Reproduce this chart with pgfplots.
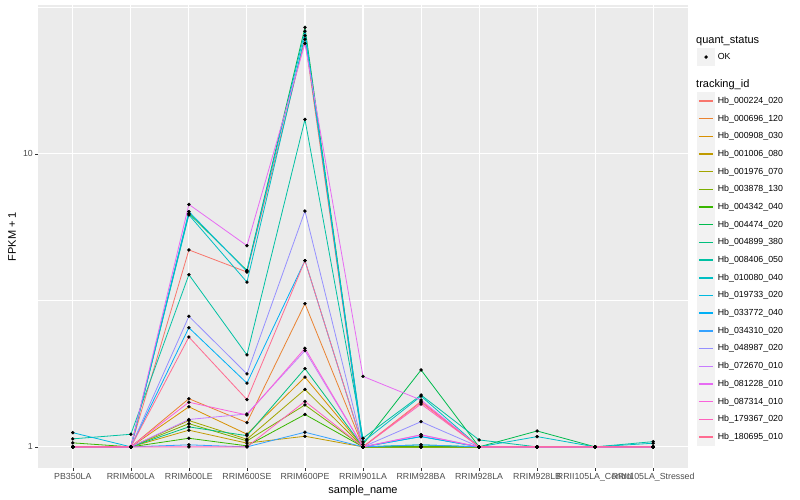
\documentclass[border=0pt]{standalone}
\usepackage{fontspec}
\setmainfont{Liberation Sans}
\usepackage{pgfplots}
\usepackage{pgfplotstable}
\pgfplotsset{compat=1.18}

\definecolor{ggbg}{HTML}{EBEBEB}
\definecolor{ggkey}{HTML}{F2F2F2}
\definecolor{gggrid}{HTML}{333333}
\definecolor{ggtext}{HTML}{4D4D4D}
% ggplot hue palette, 20 levels
\definecolor{hueA}{HTML}{F8766D}
\definecolor{hueB}{HTML}{EA8331}
\definecolor{hueC}{HTML}{D89000}
\definecolor{hueD}{HTML}{C09B00}
\definecolor{hueE}{HTML}{A3A500}
\definecolor{hueF}{HTML}{7CAE00}
\definecolor{hueG}{HTML}{39B600}
\definecolor{hueH}{HTML}{00BB4E}
\definecolor{hueI}{HTML}{00BF7D}
\definecolor{hueJ}{HTML}{00C1A3}
\definecolor{hueK}{HTML}{00BFC4}
\definecolor{hueL}{HTML}{00BAE0}
\definecolor{hueM}{HTML}{00B0F6}
\definecolor{hueN}{HTML}{35A2FF}
\definecolor{hueO}{HTML}{9590FF}
\definecolor{hueP}{HTML}{C77CFF}
\definecolor{hueQ}{HTML}{E76BF3}
\definecolor{hueR}{HTML}{FA62DB}
\definecolor{hueS}{HTML}{FF62BC}
\definecolor{hueT}{HTML}{FF6C91}

% FPKM + 1 per sample (rows) and tracking_id (columns)
\pgfplotstableread{
x  s1    s2    s3    s4    s5    s6    s7    s8    s9    s10   s11   s12   s13   s14   s15   s16   s17   s18   s19   s20
1  1     1     1     1     1     1     1.032 1     1     1.065 1     1.118 1     1     1     1     1     1     1     1
2  1     1     1     1     1     1     1     1     1     1.104 1     1     1     1     1     1     1     1     1     1
3  4.70  1.46  1.37  1.14  1.23  1.20  1.07  6.26  1.17  3.87  6.19  6.35  2.55  1.016 2.79  1.24  6.72  1.42  1     2.37
4  3.95  1.21  1.105 1.03  1.062 1.048 1.008 4.00  1.092 2.06  3.65  3.97  1.65  1     1.775 1.295 4.86  1.285 1     1.45
5  24.6  3.08  1.73  1.087 1.57  1.39  1.29  27.0  1.85  13.1  25.3  26.2  4.32  1.122 6.38  2.13  23.8  2.17  1.43  4.32
6  1     1     1     1     1     1     1     1.02  1     1.07  1.04  1     1     1     1     1     1.74  1     1     1
7  1.43  1     1     1     1     1     1     1.83  1.016 1.503 1.49  1.084 1.084 1.016 1.219 1.10  1.445 1.098 1.40  1.419
8  1     1     1     1     1     1     1     1     1     1.056 1     1     1     1     1     1     1     1     1     1
9  1     1     1     1     1     1     1     1.133 1     1     1.084 1     1     1     1     1     1     1     1     1
10 1     1     1     1     1     1     1     1     1     1     1     1     1     1     1     1     1     1     1     1
11 1     1     1     1     1     1     1     1     1     1.042 1.029 1     1     1     1     1     1     1     1     1
}\fpkm

\begin{document}
\begin{tikzpicture}
\path[use as bounding box] (0,0) rectangle (800pt,500pt);

\begin{axis}[
  at={(38pt,32pt)}, anchor=south west,
  width=650pt, height=463pt, scale only axis,
  xmin=0.4, xmax=11.6,
  ymode=log, log basis y=10,
  ymin=0.847, ymax=32.2,
  axis background/.style={fill=ggbg},
  axis line style={draw=none},
  xtick={1,...,11},
  xticklabels={PB350LA,RRIM600LA,RRIM600LE,RRIM600SE,RRIM600PE,RRIM901LA,RRIM928BA,RRIM928LA,RRIM928LB,RRII105LA\_Control,RRII105LA\_Stressed},
  ytick={1,10}, yticklabels={1,10},
  minor ytick={3.1623,31.623},
  xmajorgrids, ymajorgrids, yminorgrids,
  major grid style={white, line width=1.07pt},
  minor grid style={white, line width=0.53pt},
  tick pos=left, tick align=outside,
  major tick length=2.75pt, minor tick length=0pt,
  tick style={gggrid, line width=0.53pt},
  ticklabel style={font=\fontsize{8.8}{10}\selectfont, text=ggtext},
  xticklabel style={inner sep=0pt, yshift=-2.2pt},
  yticklabel style={inner sep=0pt, xshift=-2.2pt},
  xlabel={sample\_name}, ylabel={FPKM + 1},
  label style={font=\fontsize{11}{13}\selectfont},
  xlabel style={at={(axis description cs:0.5,-0.05)}, anchor=center},
  ylabel style={at={(axis description cs:-0.04,0.5)}, anchor=center},
  legend cell align=left,
  legend image code/.code={
    \fill[ggkey] (0pt,-8.64pt) rectangle (17.28pt,8.64pt);
    \draw[line width=1.4pt,#1] (1.5pt,0pt) -- (15.8pt,0pt);},
  legend style={at={(1,1)}, anchor=north west, xshift=9pt, yshift=-87pt,
    draw=none, fill=none, inner sep=0pt, row sep=0pt, column sep=3pt,
    nodes={inner sep=0pt}, font=\fontsize{8.8}{10}\selectfont},
]
% legend keys of tracking_id
\addlegendimage{color=hueA} \addlegendentry{Hb\_000224\_020}
\addlegendimage{color=hueB} \addlegendentry{Hb\_000696\_120}
\addlegendimage{color=hueC} \addlegendentry{Hb\_000908\_030}
\addlegendimage{color=hueD} \addlegendentry{Hb\_001006\_080}
\addlegendimage{color=hueE} \addlegendentry{Hb\_001976\_070}
\addlegendimage{color=hueF} \addlegendentry{Hb\_003878\_130}
\addlegendimage{color=hueG} \addlegendentry{Hb\_004342\_040}
\addlegendimage{color=hueH} \addlegendentry{Hb\_004474\_020}
\addlegendimage{color=hueI} \addlegendentry{Hb\_004899\_380}
\addlegendimage{color=hueJ} \addlegendentry{Hb\_008406\_050}
\addlegendimage{color=hueK} \addlegendentry{Hb\_010080\_040}
\addlegendimage{color=hueL} \addlegendentry{Hb\_019733\_020}
\addlegendimage{color=hueM} \addlegendentry{Hb\_033772\_040}
\addlegendimage{color=hueN} \addlegendentry{Hb\_034310\_020}
\addlegendimage{color=hueO} \addlegendentry{Hb\_048987\_020}
\addlegendimage{color=hueP} \addlegendentry{Hb\_072670\_010}
\addlegendimage{color=hueQ} \addlegendentry{Hb\_081228\_010}
\addlegendimage{color=hueR} \addlegendentry{Hb\_087314\_010}
\addlegendimage{color=hueS} \addlegendentry{Hb\_179367\_020}
\addlegendimage{color=hueT} \addlegendentry{Hb\_180695\_010}

\addplot[hueA, line width=0.8pt, forget plot] table[x=x, y=s1] {\fpkm};
\addplot[hueB, line width=0.8pt, forget plot] table[x=x, y=s2] {\fpkm};
\addplot[hueC, line width=0.8pt, forget plot] table[x=x, y=s3] {\fpkm};
\addplot[hueD, line width=0.8pt, forget plot] table[x=x, y=s4] {\fpkm};
\addplot[hueE, line width=0.8pt, forget plot] table[x=x, y=s5] {\fpkm};
\addplot[hueF, line width=0.8pt, forget plot] table[x=x, y=s6] {\fpkm};
\addplot[hueG, line width=0.8pt, forget plot] table[x=x, y=s7] {\fpkm};
\addplot[hueH, line width=0.8pt, forget plot] table[x=x, y=s8] {\fpkm};
\addplot[hueI, line width=0.8pt, forget plot] table[x=x, y=s9] {\fpkm};
\addplot[hueJ, line width=0.8pt, forget plot] table[x=x, y=s10] {\fpkm};
\addplot[hueK, line width=0.8pt, forget plot] table[x=x, y=s11] {\fpkm};
\addplot[hueL, line width=0.8pt, forget plot] table[x=x, y=s12] {\fpkm};
\addplot[hueM, line width=0.8pt, forget plot] table[x=x, y=s13] {\fpkm};
\addplot[hueN, line width=0.8pt, forget plot] table[x=x, y=s14] {\fpkm};
\addplot[hueO, line width=0.8pt, forget plot] table[x=x, y=s15] {\fpkm};
\addplot[hueP, line width=0.8pt, forget plot] table[x=x, y=s16] {\fpkm};
\addplot[hueQ, line width=0.8pt, forget plot] table[x=x, y=s17] {\fpkm};
\addplot[hueR, line width=0.8pt, forget plot] table[x=x, y=s18] {\fpkm};
\addplot[hueS, line width=0.8pt, forget plot] table[x=x, y=s19] {\fpkm};
\addplot[hueT, line width=0.8pt, forget plot] table[x=x, y=s20] {\fpkm};

% points on top of all lines
\pgfplotsinvokeforeach{1,...,20}{
  \addplot[only marks, mark=*, mark size=1.5pt, black, forget plot] table[x=x, y=s#1] {\fpkm};
}
\end{axis}

% second, empty axis only to carry the quant_status legend
\begin{axis}[
  at={(38pt,32pt)}, anchor=south west,
  width=650pt, height=463pt, scale only axis, hide axis,
  xmin=0, xmax=1, ymin=0, ymax=1,
  legend image code/.code={
    \fill[ggkey] (0pt,-8.64pt) rectangle (17.28pt,8.64pt);
    \draw[#1] plot coordinates {(8.64pt,0pt)};},
  legend style={at={(1,1)}, anchor=north west, xshift=9pt, yshift=-43pt,
    draw=none, fill=none, inner sep=0pt, column sep=3pt,
    nodes={inner sep=0pt}, font=\fontsize{8.8}{10}\selectfont},
]
\addlegendimage{only marks, mark=*, mark size=1.5pt, black}
\addlegendentry{OK}
\end{axis}

\node[anchor=west, inner sep=0pt, font=\fontsize{11}{13}\selectfont] at (696pt,459.3pt) {quant\_status};
\node[anchor=west, inner sep=0pt, font=\fontsize{11}{13}\selectfont] at (696pt,415.7pt) {tracking\_id};
\end{tikzpicture}
\end{document}
